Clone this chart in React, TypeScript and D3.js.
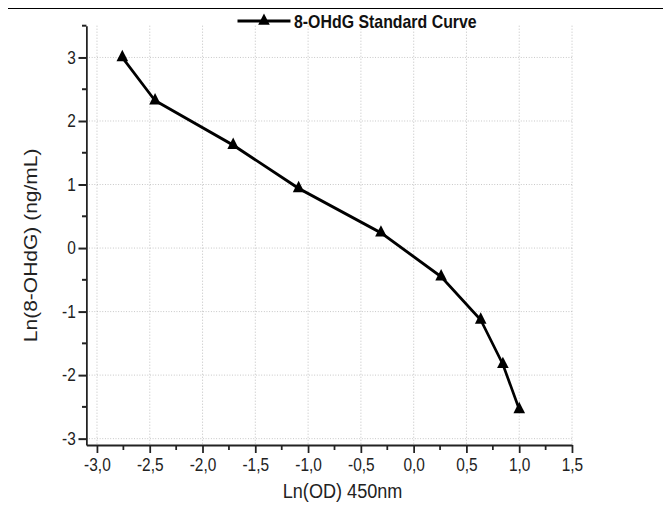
import React, { useEffect, useRef } from "react";
import * as d3 from "d3";

// values
const lnOD = [-2.76, -2.45, -1.71, -1.09, -0.31, 0.26, 0.635, 0.845, 1.0];
const lnConc = [3.0, 2.32, 1.62, 0.94, 0.24, -0.45, -1.13, -1.83, -2.54];
const xTicks = [-3, -2.5, -2, -1.5, -1, -0.5, 0, 0.5, 1, 1.5];
const yTicks = [-3, -2, -1, 0, 1, 2, 3];
const seriesName = "8-OHdG Standard Curve";

const W = 671;
const H = 525;
// the chart was laid out on a wider canvas and squeezed to 671px
const SRC_W = 760;
const FONT = "'Liberation Sans', Arial, sans-serif";

function App() {
  const ref = useRef<SVGSVGElement>(null);

  useEffect(() => {
    const root = d3.select(ref.current);
    root.selectAll("*").remove();

    // outer frame: black plate with a white inset
    root.append("rect").attr("x", 5).attr("y", 6).attr("width", 664).attr("height", 517).attr("fill", "#000");
    root.append("rect").attr("x", 8).attr("y", 9).attr("width", 658).attr("height", 511).attr("fill", "#fff");

    const svg = root.append("g").attr("transform", `scale(${W / SRC_W},1)`);

    const x = d3.scaleLinear().domain([-3.1, 1.5]).range([97.9, 647.9]);
    const y = d3.scaleLinear().domain([-3.1, 3.5]).range([445, 25.7]);
    const fmt = (d: number) => d3.format(".1f")(d).replace(".", ",").replace("−", "-");

    // grid
    const grid = svg.append("g").attr("stroke", "#bdbdbd").attr("stroke-width", 1).attr("stroke-dasharray", "1,2");
    grid
      .selectAll("line.v")
      .data(xTicks)
      .join("line")
      .attr("x1", (d) => x(d))
      .attr("x2", (d) => x(d))
      .attr("y1", y(3.5))
      .attr("y2", y(-3.1));
    grid
      .selectAll("line.h")
      .data(yTicks)
      .join("line")
      .attr("class", "h")
      .attr("x1", x(-3.1))
      .attr("x2", x(1.5))
      .attr("y1", (d) => y(d))
      .attr("y2", (d) => y(d));

    // axes
    const xAxis = d3
      .axisBottom(x)
      .tickValues(xTicks)
      .tickFormat((d) => fmt(d as number))
      .tickSize(8)
      .tickSizeOuter(0)
      .tickPadding(6);
    const gx = svg.append("g").attr("transform", `translate(0,${y(-3.1)})`).call(xAxis);
    gx.append("g")
      .selectAll("line")
      .data(xTicks.slice(0, -1).map((d) => d + 0.25))
      .join("line")
      .attr("x1", (d) => x(d))
      .attr("x2", (d) => x(d))
      .attr("y1", 0)
      .attr("y2", 5)
      .attr("stroke", "#222")
      .attr("stroke-width", 2);

    const yAxis = d3
      .axisLeft(y)
      .tickValues(yTicks)
      .tickFormat((d) => String(d).replace("−", "-"))
      .tickSize(9)
      .tickSizeOuter(0)
      .tickPadding(3);
    const gy = svg.append("g").attr("transform", `translate(${x(-3.1)},0)`).call(yAxis);
    gy.append("g")
      .selectAll("line")
      .data(yTicks.map((d) => d + 0.5))
      .join("line")
      .attr("x1", 0)
      .attr("x2", -5)
      .attr("y1", (d) => y(d))
      .attr("y2", (d) => y(d))
      .attr("stroke", "#222")
      .attr("stroke-width", 2);

    [gx, gy].forEach((g) => {
      g.select(".domain").attr("stroke", "#222").attr("stroke-width", 2);
      g.selectAll(".tick line").attr("stroke", "#222").attr("stroke-width", 2);
      g.selectAll(".tick text")
        .attr("fill", "#222")
        .style("font-family", FONT)
        .style("font-size", "17.5px");
    });

    // axis titles
    svg
      .append("text")
      .attr("x", 388)
      .attr("y", 498)
      .attr("text-anchor", "middle")
      .style("font-family", FONT)
      .style("font-size", "20.5px")
      .attr("fill", "#222")
      .text("Ln(OD) 450nm");
    svg
      .append("text")
      .attr("transform", `translate(42,${(y(3.5) + y(-3.1)) / 2 + 10}) rotate(-90)`)
      .attr("text-anchor", "middle")
      .style("font-family", FONT)
      .style("font-size", "21px")
      .attr("fill", "#222")
      .text("Ln(8-OHdG) (ng/mL)");

    // curve
    const pts = lnOD.map((v, i) => [v, lnConc[i]] as [number, number]);
    svg
      .append("path")
      .datum(pts)
      .attr("fill", "none")
      .attr("stroke", "#000")
      .attr("stroke-width", 3)
      .attr("d", d3.line().x((d) => x(d[0])).y((d) => y(d[1])));

    const tri = d3.symbol().type(d3.symbolTriangle).size(75);
    svg
      .append("g")
      .selectAll("path")
      .data(pts)
      .join("path")
      .attr("transform", (d) => `translate(${x(d[0])},${y(d[1])})`)
      .attr("d", tri)
      .attr("fill", "#000");

    // legend
    const lg = svg.append("g").attr("transform", "translate(269,21)");
    lg.append("line").attr("x1", 0).attr("x2", 60).attr("y1", 0).attr("y2", 0).attr("stroke", "#000").attr("stroke-width", 3);
    lg.append("path").attr("transform", "translate(30,0)").attr("d", tri).attr("fill", "#000");
    lg.append("text")
      .attr("x", 64)
      .attr("y", 6.5)
      .style("font-family", FONT)
      .style("font-size", "18px")
      .style("font-weight", "bold")
      .attr("fill", "#111")
      .text(seriesName);
  }, []);

  return (
    <div style={{ margin: -8 }}>
      <svg ref={ref} width={W} height={H} style={{ display: "block", background: "#fff" }} />
    </div>
  );
}

export default App;
